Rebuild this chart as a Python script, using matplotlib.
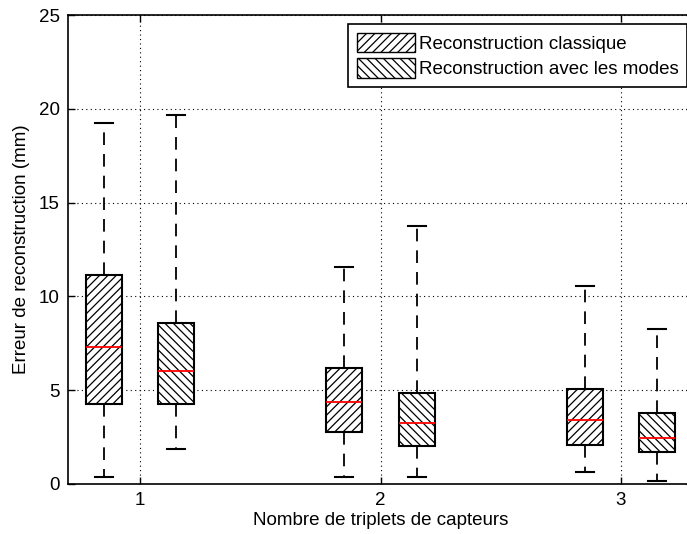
import matplotlib
matplotlib.use("Agg")
import matplotlib.pyplot as plt
from matplotlib.patches import Patch

# nombre de triplets de capteurs
groups = [1, 2, 3]
series = ["Reconstruction classique", "Reconstruction avec les modes"]

# statistiques (mm)
classique_whislo = [0.39, 0.39, 0.64]
classique_q1 = [4.27, 2.79, 2.08]
classique_med = [7.32, 4.39, 3.40]
classique_q3 = [11.13, 6.20, 5.05]
classique_whishi = [19.22, 11.57, 10.58]

modes_whislo = [1.85, 0.39, 0.16]
modes_q1 = [4.27, 2.01, 1.69]
modes_med = [6.03, 3.25, 2.47]
modes_q3 = [8.57, 4.87, 3.79]
modes_whishi = [19.68, 13.74, 8.25]

plt.rcParams['font.family'] = ['Liberation Sans', 'DejaVu Sans']
plt.rcParams['font.size'] = 13.5
plt.rcParams['hatch.linewidth'] = 0.9

fig = plt.figure(figsize=(6.87, 5.34), dpi=100)
ax = fig.add_axes([68 / 687, 50 / 534, 625 / 687, 469 / 534])


def make_stats(lo, q1, med, q3, hi):
    return [dict(whislo=a, q1=b, med=c, q3=d, whishi=e, fliers=[])
            for a, b, c, d, e in zip(lo, q1, med, q3, hi)]


offset = 0.15
width = 0.15
styles = dict(
    patch_artist=True,
    widths=width,
    showfliers=False,
    boxprops=dict(facecolor='white', edgecolor='black', linewidth=1.5),
    medianprops=dict(color='red', linewidth=1.3),
    whiskerprops=dict(color='black', linestyle=(0, (7, 5)), linewidth=1.3),
    capprops=dict(color='black', linewidth=1.5),
    capwidths=width / 2,
)

b1 = ax.bxp(make_stats(classique_whislo, classique_q1, classique_med, classique_q3, classique_whishi),
            positions=[g - offset for g in groups], **styles)
b2 = ax.bxp(make_stats(modes_whislo, modes_q1, modes_med, modes_q3, modes_whishi),
            positions=[g + offset for g in groups], **styles)
for b in b1['boxes']:
    b.set_hatch('////')
for b in b2['boxes']:
    b.set_hatch('\\\\\\\\')

ax.set_xlim(0.7, 3.3)
ax.set_ylim(0, 25)
ax.set_xticks(groups)
ax.set_xticklabels([str(g) for g in groups])
ax.set_yticks([0, 5, 10, 15, 20, 25])
ax.tick_params(direction='in', top=True, right=True, length=5, width=1, pad=6)
ax.grid(True, color='black', linestyle=(0, (1, 3)), linewidth=0.8)
ax.set_axisbelow(True)
for s in ax.spines.values():
    s.set_linewidth(1.2)

ax.set_xlabel("Nombre de triplets de capteurs", labelpad=2)
ax.set_ylabel("Erreur de reconstruction (mm)", labelpad=6)

handles = [Patch(facecolor='white', edgecolor='black', hatch='////', label=series[0]),
           Patch(facecolor='white', edgecolor='black', hatch='\\\\\\\\', label=series[1])]
leg = ax.legend(handles=handles, loc='upper right', bbox_to_anchor=(0.99, 0.98),
                fancybox=False, framealpha=1, edgecolor='black',
                handlelength=3.1, handleheight=1.2, handletextpad=0.2,
                borderpad=0.45, labelspacing=0.3, borderaxespad=0)
leg.get_frame().set_linewidth(1.2)

fig.savefig("out.png", dpi=100)
